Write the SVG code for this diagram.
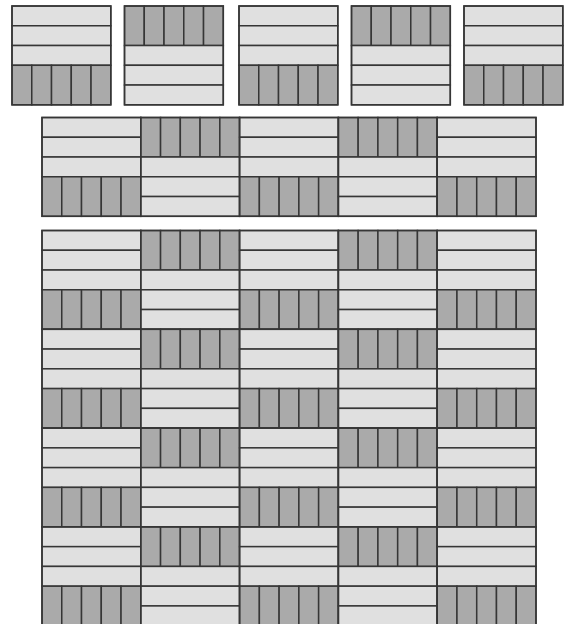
<svg xmlns="http://www.w3.org/2000/svg" xmlns:xlink="http://www.w3.org/1999/xlink" width="568" height="624" viewBox="0 0 568 624">
<style>
.l{fill:#e0e0e0;stroke:#363636;stroke-width:1.5}
.d{fill:#aaaaaa;stroke:#363636;stroke-width:1.5}
.o{fill:none;stroke:#363636;stroke-width:1.5}
</style>
<defs>
<g id="tA">
<rect class="l" x="0" y="0" width="98.8" height="19.76"/>
<rect class="l" x="0" y="19.76" width="98.8" height="19.76"/>
<rect class="l" x="0" y="39.52" width="98.8" height="19.76"/>
<rect class="d" x="0" y="59.28" width="19.76" height="39.52"/>
<rect class="d" x="19.76" y="59.28" width="19.76" height="39.52"/>
<rect class="d" x="39.52" y="59.28" width="19.76" height="39.52"/>
<rect class="d" x="59.28" y="59.28" width="19.76" height="39.52"/>
<rect class="d" x="79.04" y="59.28" width="19.76" height="39.52"/>
<rect class="o" x="0" y="0" width="98.8" height="98.8"/>
</g>
<g id="tB">
<rect class="d" x="0" y="0" width="19.76" height="39.52"/>
<rect class="d" x="19.76" y="0" width="19.76" height="39.52"/>
<rect class="d" x="39.52" y="0" width="19.76" height="39.52"/>
<rect class="d" x="59.28" y="0" width="19.76" height="39.52"/>
<rect class="d" x="79.04" y="0" width="19.76" height="39.52"/>
<rect class="l" x="0" y="39.52" width="98.8" height="19.76"/>
<rect class="l" x="0" y="59.28" width="98.8" height="19.76"/>
<rect class="l" x="0" y="79.04" width="98.8" height="19.76"/>
<rect class="o" x="0" y="0" width="98.8" height="98.8"/>
</g>
</defs>
<rect width="568" height="624" fill="#ffffff"/>
<g id="row1">
<g id="t1"><use xlink:href="#tA" x="12" y="6"/></g>
<g id="t2"><use xlink:href="#tB" x="124.5" y="6"/></g>
<g id="t3"><use xlink:href="#tA" x="239" y="6"/></g>
<g id="t4"><use xlink:href="#tB" x="351.5" y="6"/></g>
<g id="t5"><use xlink:href="#tA" x="464" y="6"/></g>
</g>
<g id="row2">
<g id="r2c1"><use xlink:href="#tA" x="42" y="117.5"/></g>
<g id="r2c2"><use xlink:href="#tB" x="140.8" y="117.5"/></g>
<g id="r2c3"><use xlink:href="#tA" x="239.6" y="117.5"/></g>
<g id="r2c4"><use xlink:href="#tB" x="338.4" y="117.5"/></g>
<g id="r2c5"><use xlink:href="#tA" x="437.2" y="117.5"/></g>
</g>
<g id="grid">
<g id="g1c1"><use xlink:href="#tA" x="42" y="230.5"/></g>
<g id="g1c2"><use xlink:href="#tB" x="140.8" y="230.5"/></g>
<g id="g1c3"><use xlink:href="#tA" x="239.6" y="230.5"/></g>
<g id="g1c4"><use xlink:href="#tB" x="338.4" y="230.5"/></g>
<g id="g1c5"><use xlink:href="#tA" x="437.2" y="230.5"/></g>
<g id="g2c1"><use xlink:href="#tA" x="42" y="329.3"/></g>
<g id="g2c2"><use xlink:href="#tB" x="140.8" y="329.3"/></g>
<g id="g2c3"><use xlink:href="#tA" x="239.6" y="329.3"/></g>
<g id="g2c4"><use xlink:href="#tB" x="338.4" y="329.3"/></g>
<g id="g2c5"><use xlink:href="#tA" x="437.2" y="329.3"/></g>
<g id="g3c1"><use xlink:href="#tA" x="42" y="428.1"/></g>
<g id="g3c2"><use xlink:href="#tB" x="140.8" y="428.1"/></g>
<g id="g3c3"><use xlink:href="#tA" x="239.6" y="428.1"/></g>
<g id="g3c4"><use xlink:href="#tB" x="338.4" y="428.1"/></g>
<g id="g3c5"><use xlink:href="#tA" x="437.2" y="428.1"/></g>
<g id="g4c1"><use xlink:href="#tA" x="42" y="526.9"/></g>
<g id="g4c2"><use xlink:href="#tB" x="140.8" y="526.9"/></g>
<g id="g4c3"><use xlink:href="#tA" x="239.6" y="526.9"/></g>
<g id="g4c4"><use xlink:href="#tB" x="338.4" y="526.9"/></g>
<g id="g4c5"><use xlink:href="#tA" x="437.2" y="526.9"/></g>
</g>
</svg>
